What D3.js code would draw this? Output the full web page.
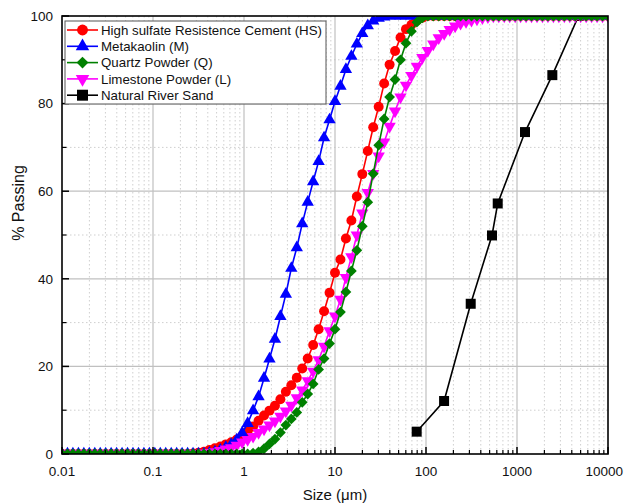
<!DOCTYPE html>
<html>
<head>
<meta charset="utf-8">
<script src="https://cdn.jsdelivr.net/npm/d3@7"></script>
<style>
  html, body { margin: 0; padding: 0; background: #fff; }
  svg { display: block; font-family: "Liberation Sans", Arial, sans-serif; }
</style>
</head>
<body>
<svg id="chart" width="624" height="504"></svg>
<script>
// Particle size classes (µm), shared by the four powders
const sizes = [
  0.01, 0.01148, 0.01318, 0.01514, 0.01738, 0.01995, 0.02291, 0.0263, 0.0302, 0.03467,
  0.03981, 0.04571, 0.05248, 0.06026, 0.06918, 0.07943, 0.0912, 0.1047, 0.1202, 0.138,
  0.1585, 0.182, 0.2089, 0.2399, 0.2754, 0.3162, 0.3631, 0.4169, 0.4786, 0.5495,
  0.631, 0.7244, 0.8318, 0.955, 1.096, 1.259, 1.445, 1.66, 1.905, 2.188,
  2.512, 2.884, 3.311, 3.802, 4.365, 5.012, 5.754, 6.607, 7.586, 8.71,
  10, 11.48, 13.18, 15.14, 17.38, 19.95, 22.91, 26.3, 30.2, 34.67,
  39.81, 45.71, 52.48, 60.26, 69.18, 79.43, 91.2, 104.7, 120.2, 138,
  158.5, 182, 208.9, 239.9, 275.4, 316.2, 363.1, 416.9, 478.6, 549.5,
  631, 724.4, 831.8, 955, 1096, 1259, 1445, 1660, 1905, 2188,
  2512, 2884, 3311, 3802, 4365, 5012, 5754, 6607, 7586, 8710,
  10000
];

// Cumulative % passing for each powder
const hsPassing = [
  0, 0, 0, 0, 0, 0, 0, 0, 0, 0,
  0, 0, 0, 0, 0, 0, 0, 0, 0, 0,
  0, 0, 0, 0, 0.1, 0.3, 0.5, 0.9, 1.3, 1.7,
  2.2, 2.7, 3.3, 4.1, 5.2, 6.3, 7.6, 8.8, 9.9, 11.0,
  12.5, 14.2, 15.7, 17.4, 19.5, 21.8, 24.9, 28.5, 32.6, 36.8,
  41.4, 44.4, 49.2, 53.3, 58.8, 63.9, 69.2, 74.6, 79.3, 84.6,
  88.9, 92.0, 95.1, 97.0, 98.0, 99.0, 99.6, 100, 100, 100,
  100, 100, 100, 100, 100, 100, 100, 100, 100, 100,
  100, 100, 100, 100, 100, 100, 100, 100, 100, 100,
  100, 100, 100, 100, 100, 100, 100, 100, 100, 100,
  100
];
const mkPassing = [
  0, 0, 0, 0, 0, 0, 0, 0, 0, 0,
  0, 0, 0, 0, 0, 0, 0, 0, 0, 0,
  0, 0, 0, 0, 0, 0, 0, 0.2, 0.5, 0.9,
  1.5, 2.2, 3.2, 4.8, 7.0, 9.9, 13.1, 17.3, 21.7, 26.2,
  31.4, 36.5, 42.4, 47.1, 52.6, 57.5, 62.2, 66.8, 72.2, 76.3,
  80.5, 84.0, 87.8, 90.8, 93.6, 96.0, 97.8, 98.9, 99.5, 99.8,
  100, 100, 100, 100, 100, 100, 100, 100, 100, 100,
  100, 100, 100, 100, 100, 100, 100, 100, 100, 100,
  100, 100, 100, 100, 100, 100, 100, 100, 100, 100,
  100, 100, 100, 100, 100, 100, 100, 100, 100, 100,
  100
];
const qzPassing = [
  0, 0, 0, 0, 0, 0, 0, 0, 0, 0,
  0, 0, 0, 0, 0, 0, 0, 0, 0, 0,
  0, 0, 0, 0, 0, 0, 0, 0, 0, 0,
  0, 0, 0, 0, 0, 0.2, 0.5, 1.2, 2.3, 3.4,
  4.9, 6.6, 8.0, 9.5, 11.8, 13.7, 16.0, 19.3, 21.8, 25.2,
  28.5, 32.4, 37.0, 41.8, 46.5, 52.0, 57.5, 64.0, 70.5, 76.5,
  81.5, 85.5, 90.0, 93.8, 96.5, 98.6, 99.6, 100, 100, 100,
  100, 100, 100, 100, 100, 100, 100, 100, 100, 100,
  100, 100, 100, 100, 100, 100, 100, 100, 100, 100,
  100, 100, 100, 100, 100, 100, 100, 100, 100, 100,
  100
];
const lsPassing = [
  0, 0, 0, 0, 0, 0, 0, 0, 0, 0,
  0, 0, 0, 0, 0, 0, 0, 0, 0, 0,
  0, 0, 0, 0, 0, 0.1, 0.2, 0.3, 0.5, 0.8,
  1.1, 1.4, 2.0, 2.7, 3.3, 4.0, 4.9, 5.7, 6.6, 7.5,
  8.6, 9.8, 11.1, 12.8, 14.6, 16.7, 18.9, 21.5, 24.6, 28.1,
  31.5, 35.3, 40.3, 45.0, 50.0, 55.0, 59.7, 64.0, 68.0, 71.2,
  74.8, 78.3, 81.5, 84.2, 86.4, 88.5, 90.5, 92.1, 93.6, 95.0,
  96.0, 96.9, 97.7, 98.3, 98.7, 99.0, 99.3, 99.6, 99.8, 100,
  100, 100, 100, 100, 100, 100, 100, 100, 100, 100,
  100, 100, 100, 100, 100, 100, 100, 100, 100, 100,
  100
];

// Sieve analysis of the natural river sand
const sandSizes = [79, 158, 310, 531, 614, 1225, 2445, 4750];
const sandPassing = [5.1, 12.1, 34.3, 49.9, 57.2, 73.5, 86.5, 100];

const seriesNames = [
  "High sulfate Resistence Cement (HS)",
  "Metakaolin (M)",
  "Quartz Powder (Q)",
  "Limestone Powder (L)",
  "Natural River Sand"
];
const seriesColors = ["#ff0000", "#0000ff", "#008000", "#ff00ff", "#000000"];

const xTickValues = [0.01, 0.1, 1, 10, 100, 1000, 10000];
const xTickLabels = ["0.01", "0.1", "1", "10", "100", "1000", "10000"];
const yTickValues = [0, 20, 40, 60, 80, 100];

// ---- layout ----
const W = 624, H = 504;
const margin = { left: 62, right: 16, top: 16, bottom: 50 };
const pw = W - margin.left - margin.right;
const ph = H - margin.top - margin.bottom;

const svg = d3.select("#chart");
const g = svg.append("g").attr("transform", `translate(${margin.left},${margin.top})`);

const x = d3.scaleLog().domain([0.01, 10000]).range([0, pw]);
const y = d3.scaleLinear().domain([0, 100]).range([ph, 0]);

// minor positions: 2..9 within each decade, and odd tens on y
const xMinor = [];
for (let d = -2; d < 4; d++) for (let m = 2; m <= 9; m++) xMinor.push(m * Math.pow(10, d));
const yMinor = [10, 30, 50, 70, 90];

// ---- grid ----
const grid = g.append("g");
grid.selectAll("line.xmin").data(xMinor).join("line")
  .attr("x1", d => x(d)).attr("x2", d => x(d)).attr("y1", 0).attr("y2", ph)
  .attr("stroke", "#cfcfcf").attr("stroke-width", 1).attr("stroke-dasharray", "1.5,2.5");
grid.selectAll("line.ymin").data(yMinor).join("line")
  .attr("x1", 0).attr("x2", pw).attr("y1", d => y(d)).attr("y2", d => y(d))
  .attr("stroke", "#cfcfcf").attr("stroke-width", 1).attr("stroke-dasharray", "1.5,2.5");
grid.selectAll("line.xmaj").data(xTickValues.slice(1, -1)).join("line")
  .attr("x1", d => x(d)).attr("x2", d => x(d)).attr("y1", 0).attr("y2", ph)
  .attr("stroke", "#c0c0c0").attr("stroke-width", 1.2);
grid.selectAll("line.ymaj").data(yTickValues.slice(1, -1)).join("line")
  .attr("x1", 0).attr("x2", pw).attr("y1", d => y(d)).attr("y2", d => y(d))
  .attr("stroke", "#c0c0c0").attr("stroke-width", 1.2);

// ---- data ----
svg.append("defs").append("clipPath").attr("id", "plotClip")
  .append("rect").attr("x", 0).attr("y", 0).attr("width", pw).attr("height", ph);

const plot = g.append("g").attr("clip-path", "url(#plotClip)");

const markers = {
  circle: { type: d3.symbolCircle, size: 78, rot: 0 },
  up: { type: d3.symbolTriangle, size: 66, rot: 0 },
  diamond: { type: d3.symbolSquare, size: 58, rot: 45 },
  down: { type: d3.symbolTriangle, size: 66, rot: 180 },
  square: { type: d3.symbolSquare, size: 100, rot: 0 }
};
const seriesMarkers = ["circle", "up", "diamond", "down", "square"];

const line = d3.line().x(d => x(d[0])).y(d => y(d[1]));

function drawSeries(idx, xs, ys) {
  const pts = xs.map((s, i) => [s, ys[i]]);
  const col = seriesColors[idx];
  const mk = markers[seriesMarkers[idx]];
  const sg = plot.append("g");
  sg.append("path").datum(pts).attr("d", line)
    .attr("fill", "none").attr("stroke", col).attr("stroke-width", 1.6);
  sg.selectAll("path.m").data(pts).join("path")
    .attr("d", d3.symbol().type(mk.type).size(mk.size))
    .attr("transform", d => `translate(${x(d[0])},${y(d[1])}) rotate(${mk.rot})`)
    .attr("fill", col);
}

drawSeries(4, sandSizes, sandPassing);
drawSeries(0, sizes, hsPassing);
drawSeries(1, sizes, mkPassing);
drawSeries(3, sizes, lsPassing);
drawSeries(2, sizes, qzPassing);

// ---- axes ----
const axisFont = "13.5px";
const xAxis = g.append("g").attr("transform", `translate(0,${ph})`);
xAxis.selectAll("line.maj").data(xTickValues).join("line")
  .attr("x1", d => x(d)).attr("x2", d => x(d)).attr("y1", 0).attr("y2", -7)
  .attr("stroke", "#000").attr("stroke-width", 1.5);
xAxis.selectAll("line.min").data(xMinor).join("line")
  .attr("x1", d => x(d)).attr("x2", d => x(d)).attr("y1", 0).attr("y2", -4)
  .attr("stroke", "#000").attr("stroke-width", 1.2);
xAxis.selectAll("text").data(xTickValues).join("text")
  .attr("x", (d, i) => i === xTickValues.length - 1 ? W - margin.left - 1 : x(d))
  .attr("y", 21.5)
  .attr("text-anchor", (d, i) => i === xTickValues.length - 1 ? "end" : "middle")
  .attr("font-size", axisFont).attr("fill", "#111")
  .text((d, i) => xTickLabels[i]);

const yAxis = g.append("g");
yAxis.selectAll("line.maj").data(yTickValues).join("line")
  .attr("x1", 0).attr("x2", 7).attr("y1", d => y(d)).attr("y2", d => y(d))
  .attr("stroke", "#000").attr("stroke-width", 1.5);
yAxis.selectAll("line.min").data(yMinor).join("line")
  .attr("x1", 0).attr("x2", 4.5).attr("y1", d => y(d)).attr("y2", d => y(d))
  .attr("stroke", "#000").attr("stroke-width", 1.2);
yAxis.selectAll("text").data(yTickValues).join("text")
  .attr("x", -9).attr("y", d => y(d)).attr("dy", "0.36em")
  .attr("text-anchor", "end").attr("font-size", axisFont).attr("fill", "#111")
  .text(d => d);

// frame
g.append("rect").attr("x", 0).attr("y", 0).attr("width", pw).attr("height", ph)
  .attr("fill", "none").attr("stroke", "#000").attr("stroke-width", 1.6);

// axis titles
svg.append("text").attr("x", margin.left + pw / 2).attr("y", 500)
  .attr("text-anchor", "middle").attr("font-size", "15px").attr("fill", "#111")
  .text("Size (\u03bcm)");
svg.append("text")
  .attr("transform", `translate(24,${margin.top + ph / 2 - 32}) rotate(-90)`)
  .attr("text-anchor", "middle").attr("font-size", "16px").attr("fill", "#111")
  .text("% Passing");

// ---- legend ----
const lg = svg.append("g").attr("transform", "translate(65,21)");
lg.append("rect").attr("x", 0).attr("y", 0).attr("width", 261).attr("height", 83)
  .attr("fill", "#fff").attr("stroke", "#555").attr("stroke-width", 1);
seriesNames.forEach((name, i) => {
  const cy = 9 + i * 16.3;
  const mk = markers[seriesMarkers[i]];
  lg.append("line").attr("x1", 2).attr("x2", 33).attr("y1", cy).attr("y2", cy)
    .attr("stroke", seriesColors[i]).attr("stroke-width", 1.6);
  lg.append("path").attr("d", d3.symbol().type(mk.type).size(mk.size * 1.2))
    .attr("transform", `translate(17.5,${cy}) rotate(${mk.rot})`)
    .attr("fill", seriesColors[i]);
  lg.append("text").attr("x", 36).attr("y", cy).attr("dy", "0.36em")
    .attr("font-size", "13.3px").attr("fill", "#111").text(name);
});
</script>
</body>
</html>
